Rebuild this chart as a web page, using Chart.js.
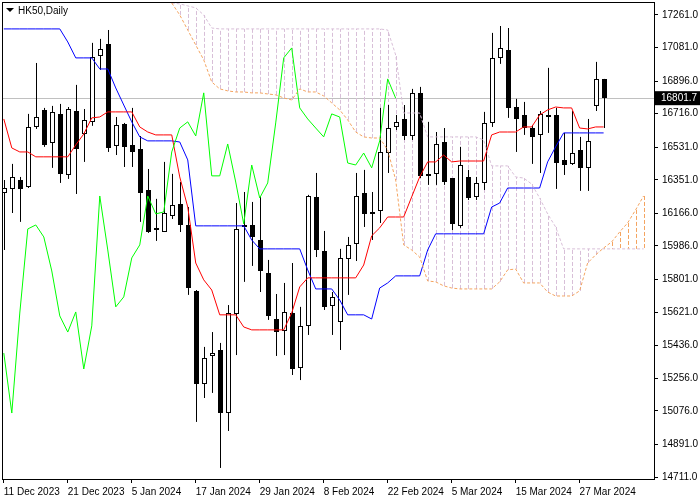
<!DOCTYPE html>
<html><head><meta charset="utf-8">
<script src="https://cdn.jsdelivr.net/npm/chart.js@4.4.1/dist/chart.umd.min.js"></script>
<style>html,body{margin:0;padding:0;background:#fff}#wrap{width:700px;height:500px;position:relative}</style>
</head><body><div id="wrap"><canvas id="c" width="700" height="500"></canvas></div>
<script>
const xLabels = ["11 Dec 2023","21 Dec 2023","5 Jan 2024","17 Jan 2024","29 Jan 2024","8 Feb 2024","22 Feb 2024","5 Mar 2024","15 Mar 2024","27 Mar 2024"];
const yTicks = [17261,17081,16896,16716,16531,16351,16166,15986,15801,15621,15436,15256,15076,14891,14711];
const opens = [16279,16301,16350,16312,16643,16737,16555,16715,16378,16731,16604,16671,17035,17101,16538,16660,16544,16522,16295,16074,16063,16152,16218,16102,15738,15224,15379,15412,15064,15611,16091,16102,16019,15837,15583,15517,15616,15313,15545,16257,15959,15655,15567,15914,15997,16279,16163,16179,16499,16643,16687,16593,16831,16384,16384,16560,16361,16096,16367,16257,16334,16665,17024,17068,16753,16709,16637,16599,16709,16709,16461,16439,16516,16417,16759,16908];
const highs = [16350,16439,16367,16715,16996,16748,16759,16770,16753,16875,16742,17107,17129,17178,16698,16665,16748,16593,16411,16246,16450,16384,16339,16201,15743,15429,15511,15451,15660,16223,16284,16229,16257,15909,15721,15782,15892,15650,16268,16389,16069,15732,15970,16036,16389,16406,16284,16748,16764,16709,16764,16853,16864,16671,16615,16637,16361,16533,16406,16367,16726,17162,17200,17189,16798,16781,16654,16731,16969,16748,16610,16731,16588,16687,17002,16908];
const lows = [15964,16168,16119,16306,16632,16533,16417,16334,16356,16273,16450,16649,16958,16505,16488,16422,16422,16119,16058,16014,16063,16135,16063,15716,15015,15147,15175,14761,14965,15384,15788,15876,15732,15578,15379,15384,15274,15246,15495,15925,15633,15495,15412,15716,15903,16091,16019,16113,16389,16626,16571,16571,16361,16323,16323,16323,16074,16086,16240,16240,16295,16643,16991,16693,16505,16599,16439,16389,16610,16301,16378,16433,16290,16290,16731,16637];
const closes = [16306,16367,16301,16643,16698,16544,16726,16384,16742,16522,16682,17029,17073,16527,16654,16533,16505,16279,16063,16086,16168,16212,16102,15754,15224,15368,15395,15064,15616,16080,16102,16036,15848,15600,15511,15622,15307,15545,16262,15964,15650,15705,15920,15992,16262,16163,16174,16505,16637,16671,16593,16831,16373,16373,16549,16339,16108,16433,16251,16334,16665,17024,17079,16748,16687,16637,16588,16715,16698,16444,16433,16499,16417,16566,16908,16801.7];
const tenkan = [16687,16527,16505,16505,16478,16478,16478,16478,16478,16544,16604,16693,16698,16726,16726,16726,16726,16643,16615,16599,16599,16599,16367,16201,15892,15799,15743,15606,15606,15606,15539,15523,15523,15523,15523,15523,15616,15760,15810,15810,15810,15810,15810,15810,15810,15881,16042,16086,16146,16146,16146,16257,16367,16450,16450,16488,16450,16455,16455,16455,16455,16599,16615,16615,16615,16643,16643,16709,16737,16753,16748,16748,16637,16632,16643,16643];
const kijun = [17184,17184,17184,17184,17184,17184,17184,17184,17112,17024,17024,17024,16963,16963,16858,16764,16671,16588,16566,16566,16566,16566,16560,16461,16097,16097,16097,16097,16097,16097,16097,16019,15970,15970,15970,15970,15970,15970,15854,15749,15749,15749,15688,15606,15606,15606,15583,15754,15782,15821,15821,15821,15821,15964,16053,16053,16053,16053,16053,16053,16053,16201,16223,16306,16306,16306,16306,16306,16450,16533,16610,16610,16610,16610,16610,16610];
const spanStart = 21;
const senkouA = [17327,17261,17178,17095,17013,16891,16853,16842,16836,16836,16831,16831,16825,16820,16803,16792,16853,16836,16836,16814,16776,16737,16682,16615,16588,16582,16582,16516,16350,15992,15964,15925,15793,15788,15766,15754,15749,15749,15749,15749,15749,15788,15854,15859,15782,15782,15782,15732,15710,15710,15710,15738,15892,15937,15975,16008,16063,16113,16185,16262];
const senkouB = [17327,17322,17311,17300,17261,17189,17184,17184,17184,17184,17184,17184,17184,17184,17184,17184,17184,17184,17184,17184,17184,17184,17184,17184,17184,17184,17184,17178,17040,16720,16720,16720,16588,16588,16588,16588,16588,16588,16588,16571,16428,16428,16428,16367,16361,16328,16251,16163,16091,15970,15970,15970,15970,15970,15970,15970,15970,15970,15970,15970];
const chikouShift = 26;
const lastPrice = 16801.7;

const pts = (arr, off) => arr.map((v, i) => ({x: i + off, y: v}));
const chikou = pts(closes.slice(chikouShift), 0);

const FONT = {family: "'Liberation Sans', Arial, sans-serif", size: 10};

const ichimoku = {
  id: 'ichimoku',
  beforeDatasetsDraw(chart) {
    const {ctx, chartArea: a, scales: {x, y}} = chart;
    ctx.save();
    ctx.beginPath(); ctx.rect(a.left, a.top, a.right - a.left, a.bottom - a.top); ctx.clip();
    const py = Math.round(y.getPixelForValue(lastPrice)) + 0.5;
    ctx.strokeStyle = '#C0C0C0'; ctx.lineWidth = 1;
    ctx.beginPath(); ctx.moveTo(a.left, py); ctx.lineTo(a.right, py); ctx.stroke();
    ctx.setLineDash([4, 2]);
    for (let k = 0; k < senkouA.length; k++) {
      const i = k + spanStart;
      const px = Math.round(x.getPixelForValue(i)) + 0.5;
      const ya = y.getPixelForValue(senkouA[k]), yb = y.getPixelForValue(senkouB[k]);
      ctx.strokeStyle = senkouA[k] > senkouB[k] ? '#F4A460' : '#D8BFD8';
      ctx.beginPath(); ctx.moveTo(px, ya); ctx.lineTo(px, yb); ctx.stroke();
    }
    ctx.setLineDash([]);
    for (let i = 0; i < opens.length; i++) {
      const px = Math.round(x.getPixelForValue(i));
      const yo = y.getPixelForValue(opens[i]), yc = y.getPixelForValue(closes[i]);
      const yh = y.getPixelForValue(highs[i]), yl = y.getPixelForValue(lows[i]);
      ctx.strokeStyle = '#000'; ctx.lineWidth = 1;
      ctx.beginPath(); ctx.moveTo(px + 0.5, yh); ctx.lineTo(px + 0.5, yl); ctx.stroke();
      const top = Math.round(Math.min(yo, yc)), bot = Math.round(Math.max(yo, yc));
      const bull = closes[i] >= opens[i];
      ctx.fillStyle = bull ? '#fff' : '#000';
      ctx.fillRect(px - 2, top, 5, Math.max(bot - top, 1));
      ctx.strokeRect(px - 1.5, top + 0.5, 4, Math.max(bot - top - 1, 0));
    }
    ctx.restore();
  },
  afterDraw(chart) {
    const {ctx, chartArea: a, scales: {y}} = chart;
    ctx.save();
    ctx.strokeStyle = '#000'; ctx.lineWidth = 1;
    ctx.strokeRect(a.left - 0.5, a.top - 0.5, a.right - a.left + 1, a.bottom - a.top + 1);
    ctx.fillStyle = '#000';
    ctx.beginPath(); ctx.moveTo(6, 8); ctx.lineTo(14, 8); ctx.lineTo(10, 12); ctx.closePath(); ctx.fill();
    ctx.font = "10px 'Liberation Sans', Arial, sans-serif";
    ctx.textBaseline = 'middle'; ctx.textAlign = 'left';
    ctx.fillText('HK50,Daily', 18, 11);
    const py = y.getPixelForValue(lastPrice);
    ctx.fillStyle = '#000';
    ctx.fillRect(a.right + 1, py - 7, 700 - a.right - 1, 14);
    ctx.fillStyle = '#fff';
    ctx.fillText(lastPrice.toFixed(1), a.right + 7, py + 0.5);
    ctx.restore();
  }
};

new Chart(document.getElementById('c'), {
  type: 'line',
  data: {
    datasets: [
      {data: pts(senkouA, spanStart), borderColor: '#F4A460', borderDash: [3, 2]},
      {data: pts(senkouB, spanStart), borderColor: '#D8BFD8', borderDash: [3, 2]},
      {data: chikou, borderColor: '#00FF00'},
      {data: pts(tenkan, 0), borderColor: '#FF0000'},
      {data: pts(kijun, 0), borderColor: '#0000FF'}
    ].map(d => Object.assign({borderWidth: 1, pointRadius: 0, tension: 0, fill: false}, d))
  },
  options: {
    responsive: false, animation: false, devicePixelRatio: 1,
    layout: {padding: {left: 3, top: 3, right: 0, bottom: 0}},
    plugins: {legend: {display: false}, tooltip: {enabled: false}},
    scales: {
      x: {
        type: 'linear', min: -0.1, max: 81.3,
        afterBuildTicks: s => { s.ticks = xLabels.map((_, k) => ({value: k * 8})); },
        afterFit: s => { s.height = 21; s.paddingLeft = 0; s.paddingRight = 0; },
        ticks: {autoSkip: false, maxRotation: 0, align: 'start', padding: 3, color: '#000', font: FONT,
          callback: v => xLabels[Math.round(v / 8)]},
        grid: {drawOnChartArea: false, drawTicks: true, tickLength: 4, color: '#000'},
        border: {color: '#000'}
      },
      y: {
        position: 'right', min: 14700, max: 17327,
        afterBuildTicks: s => { s.ticks = yTicks.map(v => ({value: v})); },
        afterFit: s => { s.width = 46; s.paddingTop = 0; s.paddingBottom = 0; },
        ticks: {autoSkip: false, padding: 4, color: '#000', font: FONT, callback: v => v.toFixed(1)},
        grid: {drawOnChartArea: false, drawTicks: true, tickLength: 4, color: '#000'},
        border: {color: '#000'}
      }
    }
  },
  plugins: [ichimoku]
});
</script></body></html>
